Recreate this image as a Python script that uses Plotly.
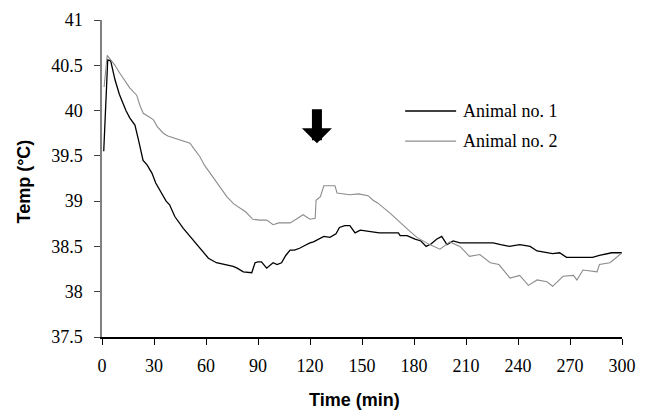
import plotly.graph_objects as go

# Animal no. 1 (black)
t1 = [1, 3.3, 5, 7.5, 10, 13.8, 16, 19, 21, 23.7, 26, 28.8, 31, 34.6, 37, 39, 42, 46.9, 50, 53,
      56.5, 61.4, 66, 71, 75.7, 78, 81.5, 86.4, 88.3, 90, 92, 95, 98.7, 101, 103.6, 106, 108.5, 111, 114, 117,
      120, 122, 125.8, 128, 131.5, 135, 137, 140, 143, 146, 149, 152, 155, 160, 165, 171, 172, 176, 180.6, 184,
      187, 190, 193, 196, 199, 202.6, 206.5, 215, 225.6, 230, 235, 241, 247, 251, 256.7, 260, 264, 268, 275, 283,
      287, 294, 300]
temp1 = [39.55, 40.56, 40.55, 40.34, 40.18, 40.0, 39.92, 39.84, 39.68, 39.45, 39.40, 39.31, 39.2, 39.07, 39.0,
         38.96, 38.83, 38.70, 38.63, 38.55, 38.48, 38.37, 38.32, 38.30, 38.28, 38.26, 38.22, 38.21, 38.32, 38.33,
         38.33, 38.26, 38.32, 38.30, 38.32, 38.40, 38.46, 38.46, 38.48, 38.51, 38.54, 38.55, 38.59, 38.61, 38.60,
         38.64, 38.71, 38.73, 38.73, 38.65, 38.68, 38.67, 38.66, 38.65, 38.65, 38.65, 38.62, 38.62, 38.58, 38.56,
         38.50, 38.53, 38.58, 38.61, 38.52, 38.56, 38.54, 38.54, 38.54, 38.52, 38.50, 38.52, 38.50, 38.45, 38.43,
         38.42, 38.43, 38.38, 38.38, 38.38, 38.40, 38.43, 38.43]

# Animal no. 2 (grey)
t2 = [1.2, 3, 5, 7.5, 10, 13, 16, 20, 22, 23.8, 26, 29.6, 32, 35.4, 38, 41, 45, 50.8, 53, 56.5,
      59, 62.3, 66, 69, 72, 76, 79.6, 83, 87, 91, 95, 98.7, 102, 105, 108.5, 112, 116, 120, 123, 123.5,
      126, 128, 134.4, 135.6, 140, 143, 148, 153.5, 156.4, 159, 166, 170, 174, 178, 181.7, 185, 189, 195, 200.7, 206.5,
      212, 218, 224, 229, 235.4, 241, 246, 251, 256.7, 260, 266, 272, 274, 277.5, 285.6, 287, 293, 295, 300]
temp2 = [40.26, 40.61, 40.56, 40.5, 40.42, 40.34, 40.25, 40.17, 40.05, 39.97, 39.94, 39.90, 39.82, 39.75, 39.72,
         39.70, 39.68, 39.64, 39.58, 39.49, 39.40, 39.31, 39.22, 39.13, 39.05, 38.97, 38.92, 38.88, 38.80, 38.79,
         38.79, 38.74, 38.76, 38.76, 38.76, 38.80, 38.85, 38.80, 38.81, 39.01, 39.05, 39.17, 39.17, 39.09, 39.08,
         39.07, 39.08, 39.06, 39.01, 38.98, 38.87, 38.80, 38.72, 38.66, 38.60, 38.56, 38.52, 38.47, 38.55, 38.50,
         38.39, 38.41, 38.32, 38.30, 38.15, 38.18, 38.07, 38.13, 38.11, 38.06, 38.17, 38.18, 38.13, 38.24, 38.22,
         38.30, 38.32, 38.35, 38.43]

x_ticks = [0, 30, 60, 90, 120, 150, 180, 210, 240, 270, 300]
y_ticks = [37.5, 38, 38.5, 39, 39.5, 40, 40.5, 41]
y_tick_labels = ["37.5", "38", "38.5", "39", "39.5", "40", "40.5", "41"]
series_names = ["Animal no. 1", "Animal no. 2"]
series_colors = ["#000000", "#8c8c8c"]
event_time = 124
event_arrow_top, event_arrow_tip = 40.03, 39.64

serif = "Liberation Serif, Times New Roman, serif"
sans = "Liberation Sans, Arial, sans-serif"

fig = go.Figure()
fig.add_trace(go.Scatter(x=t1, y=temp1, mode="lines", name=series_names[0],
                         line=dict(color=series_colors[0], width=1.3)))
fig.add_trace(go.Scatter(x=t2, y=temp2, mode="lines", name=series_names[1],
                         line=dict(color=series_colors[1], width=1.1)))

# Manual legend (long line samples like the reference)
legend_y = [0.713, 0.618]
for i, (nm, col) in enumerate(zip(series_names, series_colors)):
    fig.add_shape(type="line", xref="paper", yref="paper",
                  x0=0.583, x1=0.681, y0=legend_y[i], y1=legend_y[i],
                  line=dict(color=col, width=1.3 if i == 0 else 1.1))
    fig.add_annotation(xref="paper", yref="paper", x=0.69, y=legend_y[i], text=nm,
                       showarrow=False, xanchor="left", yanchor="middle",
                       font=dict(family=serif, size=18, color="black"))

# Event arrow
fig.add_annotation(x=event_time, y=event_arrow_tip, ax=event_time, ay=event_arrow_top,
                   xref="x", yref="y", axref="x", ayref="y", text="",
                   showarrow=True, arrowhead=1, arrowsize=0.5, arrowwidth=10,
                   arrowcolor="black", standoff=0)

# Axis titles
fig.add_annotation(xref="paper", yref="paper", x=0, y=0.5, xshift=-79, yshift=-3,
                   text="<b>Temp (°C)</b>", textangle=-90, showarrow=False,
                   xanchor="center", yanchor="middle",
                   font=dict(family=sans, size=18, color="black"))
fig.add_annotation(xref="paper", yref="paper", x=0.5, y=0, xshift=-8, yshift=-63,
                   text="<b>Time (min)</b>", showarrow=False,
                   xanchor="center", yanchor="middle",
                   font=dict(family=sans, size=18, color="black"))

fig.update_layout(
    width=641, height=411,
    margin=dict(l=94, r=27, t=12, b=82),
    paper_bgcolor="white", plot_bgcolor="white",
    showlegend=False,
    xaxis=dict(range=[0, 300], tickvals=x_ticks, showgrid=False, zeroline=False,
               showline=True, linecolor="black", linewidth=1.5, automargin=False,
               ticks="outside", ticklen=6, tickcolor="black", tickwidth=1,
               tickfont=dict(family=serif, size=18, color="black"),
               ticklabelstandoff=6),
    yaxis=dict(range=[37.5, 41], tickvals=y_ticks, ticktext=y_tick_labels,
               showgrid=False, zeroline=False, automargin=False,
               showline=True, linecolor="#808080", linewidth=1.5,
               ticks="outside", ticklen=6, tickcolor="#404040", tickwidth=1,
               tickfont=dict(family=serif, size=18, color="black"),
               ticklabelstandoff=8),
)

fig.write_html("out.html")
